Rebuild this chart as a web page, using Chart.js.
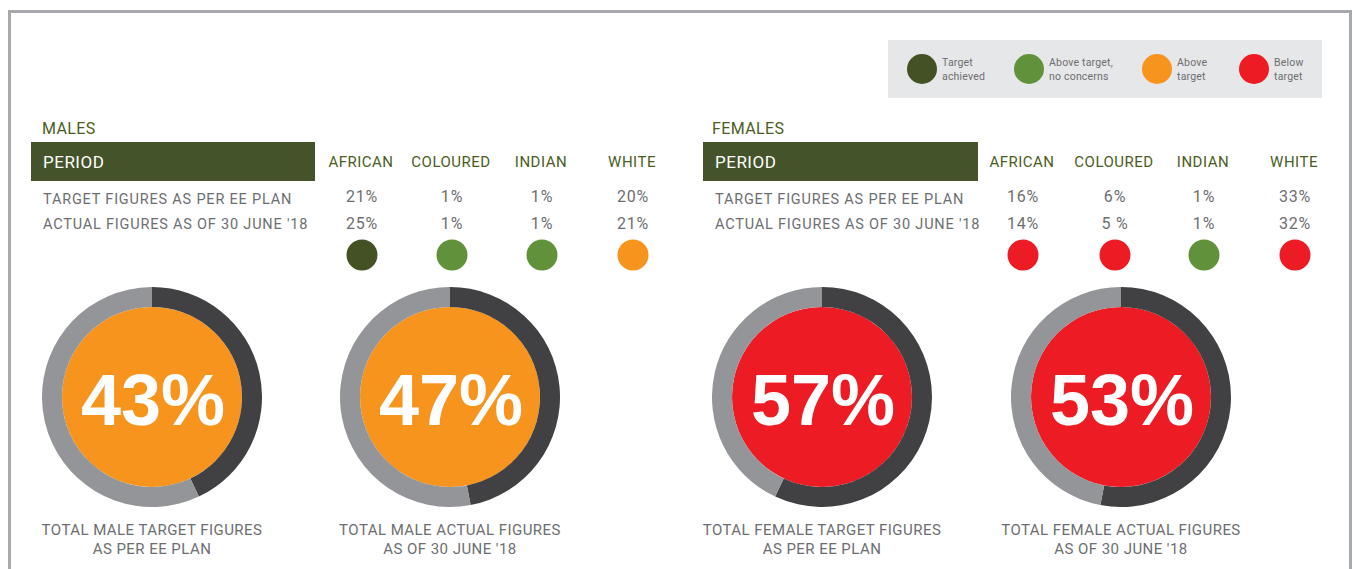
<!DOCTYPE html>
<html>
<head>
<meta charset="utf-8">
<script src="https://cdn.jsdelivr.net/npm/chart.js@4"></script>
<style>
  body { margin:0; background:#fff; font-family: Roboto, "DejaVu Sans", sans-serif; }
  #page { position:relative; width:1352px; height:569px; overflow:hidden; }
  #frame { position:absolute; left:8px; top:10px; width:1338px; height:600px; border:3px solid #a7a9ac; border-bottom:none; }
  .abs { position:absolute; white-space:nowrap; }
  .legend { position:absolute; left:888px; top:40px; width:434px; height:58px; background:#e6e7e8; }
  .ldot { position:absolute; width:30px; height:30px; border-radius:50%; }
  .ltxt { position:absolute; font-size:10.5px; line-height:14px; color:#6d6e71; letter-spacing:0.2px; }
  .title { font-size:16px; color:#4b5d23; letter-spacing:0.4px; }
  .bar { position:absolute; height:39px; background:#45532a; color:#fff; font-size:17px; line-height:40px; padding-left:12px; box-sizing:border-box; letter-spacing:0.5px; }
  .head { font-size:15px; color:#4b5d23; transform:translateX(-50%); letter-spacing:0.5px; }
  .row { font-size:14.5px; color:#6d6e71; letter-spacing:0.8px; }
  .val { font-size:16px; color:#6d6e71; transform:translateX(-50%); letter-spacing:0.8px; }
  .dot { position:absolute; width:31px; height:31px; border-radius:50%; transform:translate(-50%,-50%); }
  .cap { font-size:15px; color:#6d6e71; text-align:center; line-height:19px; transform:translateX(-50%); letter-spacing:0.45px; }
  canvas { position:absolute; }
</style>
</head>
<body>
<div id="page">
  <div id="frame"></div>
  <div class="legend" id="legend"></div>
</div>
<script>
// ---- data ----
const groups = ['AFRICAN', 'COLOURED', 'INDIAN', 'WHITE'];
const rowLabels = ['TARGET FIGURES AS PER EE PLAN', "ACTUAL FIGURES AS OF 30 JUNE '18"];
const maleTarget = ['21%', '1%', '1%', '20%'];
const maleActual = ['25%', '1%', '1%', '21%'];
const maleStatus = ['achieved', 'above', 'above', 'over'];
const femaleTarget = ['16%', '6%', '1%', '33%'];
const femaleActual = ['14%', '5 %', '1%', '32%'];
const femaleStatus = ['below', 'below', 'above', 'below'];

const totalLabels = [
  ['TOTAL MALE TARGET FIGURES', 'AS PER EE PLAN'],
  ['TOTAL MALE ACTUAL FIGURES', "AS OF 30 JUNE '18"],
  ['TOTAL FEMALE TARGET FIGURES', 'AS PER EE PLAN'],
  ['TOTAL FEMALE ACTUAL FIGURES', "AS OF 30 JUNE '18"]
];
const totalValues = [43, 47, 57, 53];
const totalFill = ['#f7941d', '#f7941d', '#ed1c24', '#ed1c24'];

const statusKeys = ['achieved', 'above', 'over', 'below'];
const statusText = [['Target', 'achieved'], ['Above target,', 'no concerns'], ['Above', 'target'], ['Below', 'target']];
const statusColor = { achieved: '#435124', above: '#62913c', over: '#f7941d', below: '#ed1c24' };

const page = document.getElementById('page');
function add(cls, x, y, html) {
  const d = document.createElement('div');
  d.className = 'abs ' + cls;
  d.style.left = x + 'px';
  d.style.top = y + 'px';
  d.innerHTML = html;
  page.appendChild(d);
  return d;
}

// legend
const legend = document.getElementById('legend');
const legendX = [19, 126, 254, 351];
statusKeys.forEach((k, i) => {
  const dot = document.createElement('div');
  dot.className = 'ldot';
  dot.style.left = (legendX[i]) + 'px';
  dot.style.top = '14px';
  dot.style.background = statusColor[k];
  legend.appendChild(dot);
  const t = document.createElement('div');
  t.className = 'ltxt';
  t.style.left = (legendX[i] + 35) + 'px';
  t.style.top = '16px';
  t.innerHTML = statusText[i].join('<br>');
  legend.appendChild(t);
});

// tables
function table(x0, titleX, title, barW, colX, target, actual, status) {
  add('title', titleX, 119, title);
  const bar = add('bar', x0, 142, 'PERIOD');
  bar.style.width = barW + 'px';
  groups.forEach((g, i) => {
    add('head', colX[i], 153, g);
    add('val', colX[i] + 1, 187, target[i]);
    add('val', colX[i] + 1, 214, actual[i]);
    const d = add('dot', colX[i] + 1, 255, '');
    d.style.background = statusColor[status[i]];
  });
  add('row', x0 + 12, 191, rowLabels[0]);
  add('row', x0 + 12, 216, rowLabels[1]);
}
table(31, 42, 'MALES', 284, [361, 451, 541, 632], maleTarget, maleActual, maleStatus);
table(703, 712, 'FEMALES', 275, [1022, 1114, 1203, 1294], femaleTarget, femaleActual, femaleStatus);

// doughnuts
const centerText = {
  id: 'centerText',
  afterDraw(chart) {
    const arc = chart.getDatasetMeta(0).data[0];
    const ctx = chart.ctx;
    ctx.save();
    ctx.fillStyle = '#ffffff';
    ctx.font = 'bold 72px "Liberation Sans", Arial, sans-serif';
    ctx.textAlign = 'center';
    ctx.textBaseline = 'alphabetic';
    ctx.fillText(chart.options.plugins.centerText.text, arc.x + 1, arc.y + 28);
    ctx.restore();
  }
};

const centersX = [152, 450, 822, 1121];
totalValues.forEach((v, i) => {
  const c = document.createElement('canvas');
  c.width = 220; c.height = 220;
  c.style.left = (centersX[i] - 110) + 'px';
  c.style.top = '287px';
  page.appendChild(c);
  new Chart(c, {
    type: 'doughnut',
    data: {
      labels: ['Figure', 'Remainder'],
      datasets: [
        { data: [v, 100 - v], backgroundColor: ['#414042', '#939598'], borderWidth: 0, weight: 1 },
        { data: [100], backgroundColor: [totalFill[i]], borderWidth: 0, weight: 4.5 }
      ]
    },
    options: {
      responsive: false,
      animation: false,
      events: [],
      cutout: 0,
      hoverOffset: 0,
      layout: { padding: 0 },
      plugins: { legend: { display: false }, tooltip: { enabled: false }, centerText: { text: v + '%' } }
    },
    plugins: [centerText]
  });
  add('cap', centersX[i], 521, totalLabels[i].join('<br>'));
});
</script>
</body>
</html>
